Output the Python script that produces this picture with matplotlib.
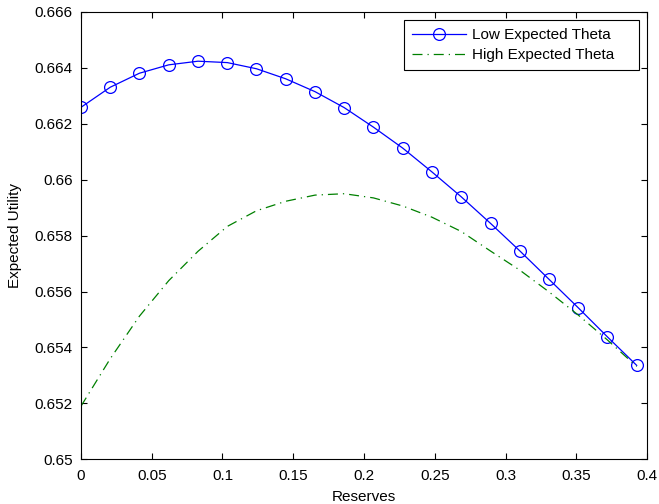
import matplotlib
matplotlib.use("Agg")
import matplotlib.pyplot as plt

plt.rcParams['font.family'] = ['Liberation Sans', 'DejaVu Sans']

# reserves grid (20 points)
reserves = [0.0, 0.0207, 0.0413, 0.0620, 0.0827, 0.1034, 0.1240, 0.1447, 0.1654, 0.1860,
            0.2067, 0.2274, 0.2480, 0.2687, 0.2894, 0.3100, 0.3307, 0.3514, 0.3720, 0.3927]

low_theta = [0.66259, 0.66331, 0.66381, 0.66411, 0.66424, 0.66419, 0.66397, 0.66361, 0.66315, 0.66258,
             0.66188, 0.66113, 0.66028, 0.65939, 0.65844, 0.65746, 0.65644, 0.65542, 0.65438, 0.65336]

high_theta = [0.65190, 0.65360, 0.65512, 0.65639, 0.65744, 0.65833, 0.65889, 0.65923, 0.65945, 0.65950,
              0.65935, 0.65906, 0.65866, 0.65815, 0.65745, 0.65677, 0.65599, 0.65516, 0.65427, 0.65332]

xticks = [0, 0.05, 0.1, 0.15, 0.2, 0.25, 0.3, 0.35, 0.4]
xticklabels = ['0', '0.05', '0.1', '0.15', '0.2', '0.25', '0.3', '0.35', '0.4']
yticks = [0.65, 0.652, 0.654, 0.656, 0.658, 0.66, 0.662, 0.664, 0.666]
yticklabels = ['0.65', '0.652', '0.654', '0.656', '0.658', '0.66', '0.662', '0.664', '0.666']

fig = plt.figure(figsize=(6.59, 5.04), dpi=100)
ax = fig.add_axes([0.1229, 0.0887, 0.8589, 0.8875])

# trailing spaces mimic the wide right padding of the matlab legend box
ax.plot(reserves, low_theta, color='#0000ff', lw=0.9, marker='o', markersize=8.5,
        mfc='none', mec='#0000ff', mew=0.9, label='Low Expected Theta    ')
ax.plot(reserves, high_theta, color='#008000', lw=0.9, linestyle=(0, (8, 4, 1, 4)),
        label='High Expected Theta    ')

ax.set_xlim(0, 0.4)
ax.set_ylim(0.65, 0.666)
ax.set_xticks(xticks)
ax.set_xticklabels(xticklabels)
ax.set_yticks(yticks)
ax.set_yticklabels(yticklabels)
ax.tick_params(direction='in', length=4, width=0.8, top=True, right=True, labelsize=11)
ax.tick_params(axis='x', pad=7)
ax.tick_params(axis='y', pad=6)
for sp in ax.spines.values():
    sp.set_linewidth(0.8)

ax.set_xlabel('Reserves', fontsize=11, labelpad=5)
ax.set_ylabel('Expected Utility', fontsize=11, labelpad=9)

leg = ax.legend(loc='upper right', fontsize=11, fancybox=False, framealpha=1,
                edgecolor='black', borderaxespad=0.55, handlelength=3.5,
                borderpad=0.5, labelspacing=0.4, handletextpad=0.4)
leg.get_frame().set_linewidth(0.8)

fig.savefig('out.png', dpi=100)
